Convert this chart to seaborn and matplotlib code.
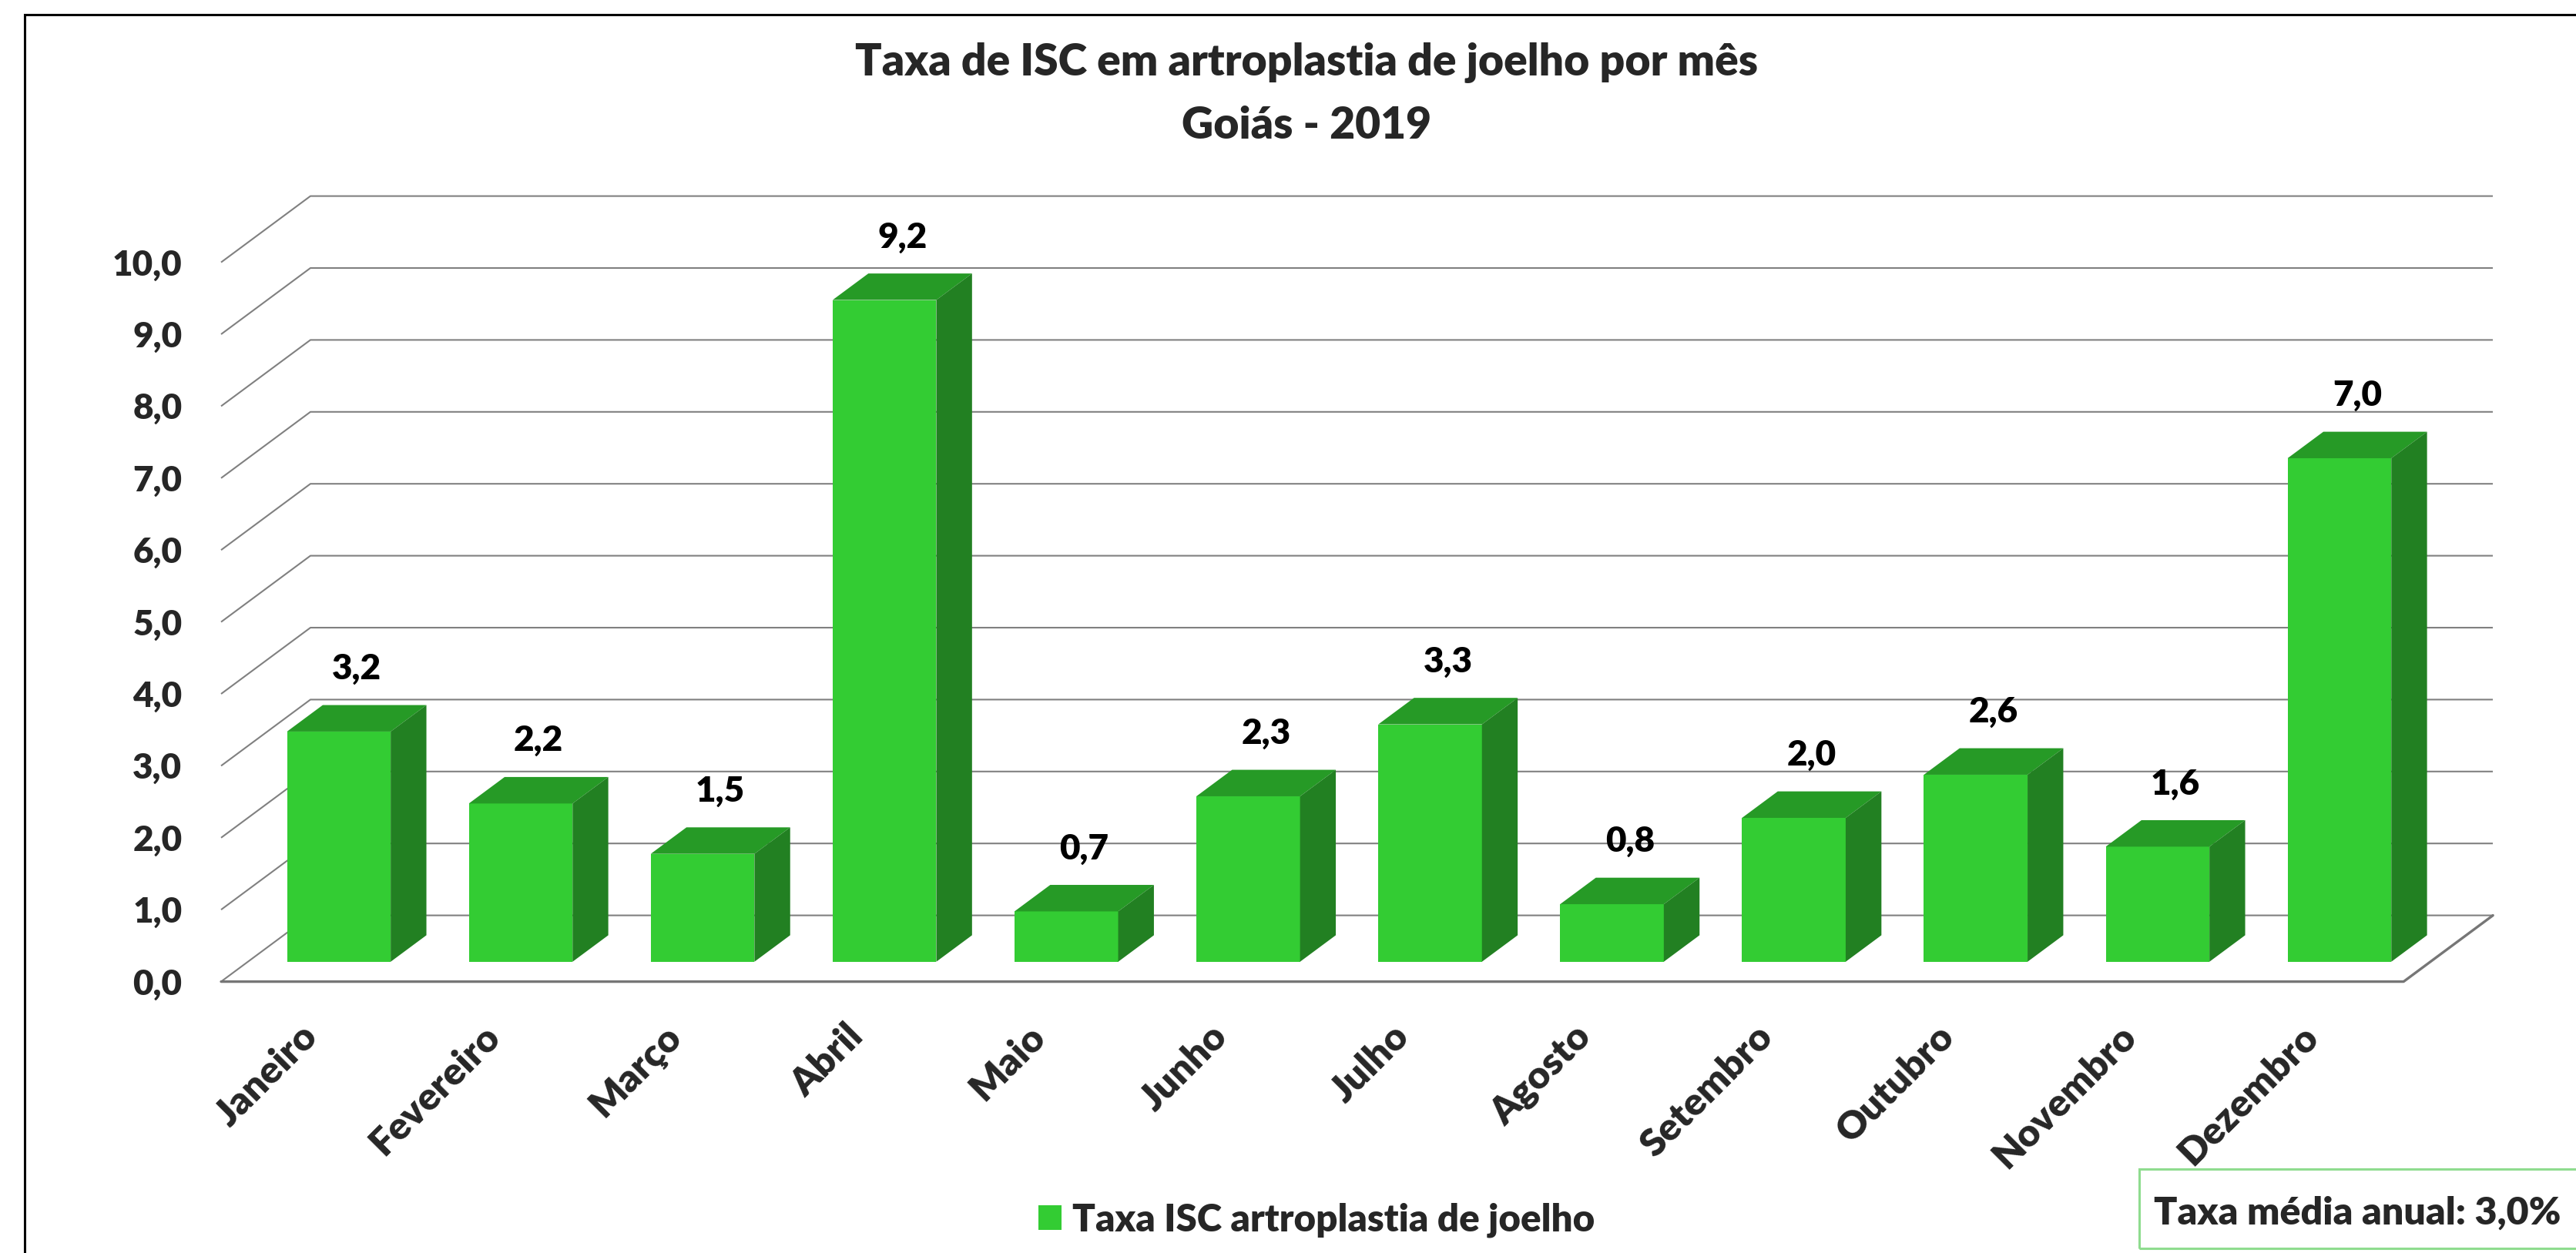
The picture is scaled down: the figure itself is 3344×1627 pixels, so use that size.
import matplotlib
matplotlib.use("Agg")
import matplotlib.pyplot as plt
from matplotlib.patches import Polygon, Rectangle
import pandas as pd
import seaborn as sns

# ---- data -------------------------------------------------------------
meses = ["Janeiro", "Fevereiro", "Março", "Abril", "Maio", "Junho",
         "Julho", "Agosto", "Setembro", "Outubro", "Novembro", "Dezembro"]
taxas = [3.2, 2.2, 1.5, 9.2, 0.7, 2.3, 3.3, 0.8, 2.0, 2.6, 1.6, 7.0]
ticks_y = [0, 1, 2, 3, 4, 5, 6, 7, 8, 9, 10]
rotulos_y = ["0,0", "1,0", "2,0", "3,0", "4,0", "5,0", "6,0", "7,0",
             "8,0", "9,0", "10,0"]
titulo = "Taxa de ISC em artroplastia de joelho por mês"
subtitulo = "Goiás - 2019"
serie = "Taxa ISC artroplastia de joelho"
media_anual = "Taxa média anual: 3,0%"

# ---- style ------------------------------------------------------------
PESO = "heavy"
sns.set_theme(style="white")
plt.rcParams["font.family"] = ["Lato", "DejaVu Sans"]
plt.rcParams["font.weight"] = PESO

FRENTE = "#33CC33"
TOPO = "#269A26"
LADO = "#228022"
GRADE = "#808080"

W, H = 3344, 1627
fig = plt.figure(figsize=(W / 100, H / 100), dpi=100)
fig.patch.set_facecolor("white")

# plot area in pixels: front-left corner, back-right end, floor and top
px_left, px_right, px_base, px_top = 287, 3236, 1274.6, 254
PX_CAT = 236.1     # pixels per category
PX_VAL = 93.4      # pixels per value unit
ax = fig.add_axes([px_left / W, (H - px_base) / H,
                   (px_right - px_left) / W, (px_base - px_top) / H])
ax.set_facecolor("none")

# oblique depth offset (data units) of the pseudo-3D box
DX = 116 / PX_CAT
DY = 86 / PX_VAL
D0, D1 = 0.3, 0.7          # bar front / back depth
LARG = 0.57                # bar width

df = pd.DataFrame({"mes": meses, "taxa": taxas})
sns.barplot(data=df, x="mes", y="taxa", color=FRENTE, saturation=1,
            width=LARG, linewidth=0, label=serie, ax=ax, zorder=3)

# push front faces back to the bar depth and add top / side faces
for p, v in zip(ax.patches, taxas):
    p.set_x(p.get_x() + D0 * DX)
    p.set_y(D0 * DY)
    x0, x1 = p.get_x(), p.get_x() + p.get_width()
    y0, y1 = p.get_y(), p.get_y() + v
    ddx, ddy = (D1 - D0) * DX, (D1 - D0) * DY
    ax.add_patch(Polygon([(x0, y1), (x1, y1), (x1 + ddx, y1 + ddy),
                          (x0 + ddx, y1 + ddy)], closed=True,
                         facecolor=TOPO, edgecolor="none", zorder=3))
    ax.add_patch(Polygon([(x1, y0), (x1 + ddx, y0 + ddy),
                          (x1 + ddx, y1 + ddy), (x1, y1)], closed=True,
                         facecolor=LADO, edgecolor="none", zorder=3))

n = len(meses)
xmin = -0.5
xmax = xmin + (px_right - px_left) / PX_CAT
ax.set_xlim(xmin, xmax)
ax.set_ylim(0, (px_base - px_top) / PX_VAL)

# side wall diagonals + back wall gridlines
for v in ticks_y:
    ax.plot([xmin, xmin + DX, xmax], [v, v + DY, v + DY], color=GRADE,
            lw=1.5, zorder=1, clip_on=False, solid_capstyle="butt")
# floor outline
ax.plot([xmin, n - 0.5, n - 0.5 + DX], [0, 0, DY], color="#767676",
        lw=2.4, zorder=2, clip_on=False)

# value labels
for i, v in enumerate(taxas):
    ax.text(i + 0.5 * DX, v + D1 * DY + 0.36, f"{v:.1f}".replace(".", ","),
            ha="center", va="baseline", fontsize=33, fontweight=PESO,
            color="black", zorder=5)

for s in ax.spines.values():
    s.set_visible(False)
ax.set_xlabel("")
ax.set_ylabel("")
ax.set_yticks(ticks_y, rotulos_y)
ax.tick_params(axis="y", length=0, pad=36.5, labelsize=33)
ax.tick_params(axis="x", length=0, pad=46, labelsize=36)
for lbl in ax.get_yticklabels():
    lbl.set_fontweight(PESO)
for lbl in ax.get_xticklabels():
    lbl.set(rotation=45, ha="right", va="center", rotation_mode="anchor",
            fontweight=PESO)

# legend
ax.legend(loc="center left", bbox_to_anchor=(1348 / W, 1 - 1584 / H),
          bbox_transform=fig.transFigure, frameon=False, borderaxespad=0,
          borderpad=0, handlelength=0.6, handleheight=0.6,
          handletextpad=0.3, prop={"size": 35.5, "weight": PESO})

# titles
cx = 1696 / W
fig.text(cx, 1 - 98 / H, titulo, ha="center", va="baseline",
         fontsize=41, fontweight=PESO)
fig.text(cx, 1 - 180 / H, subtitulo, ha="center", va="baseline",
         fontsize=41, fontweight=PESO)

# outer chart frame
fig.add_artist(Rectangle((32 / W, -0.2), 1.5, 1.2 - 19 / H,
                         transform=fig.transFigure, fill=False,
                         edgecolor="black", lw=2.2))

# annual average box
fig.add_artist(Rectangle((2777 / W, 1 - 1621 / H), 0.5, 103 / H,
                         transform=fig.transFigure, fill=False,
                         edgecolor="#8FDC8F", lw=2.2))
fig.text(2796 / W, 1 - 1590 / H, media_anual, ha="left", va="baseline",
         fontsize=36, fontweight=PESO)

fig.savefig("out.png", dpi=100, facecolor="white")
